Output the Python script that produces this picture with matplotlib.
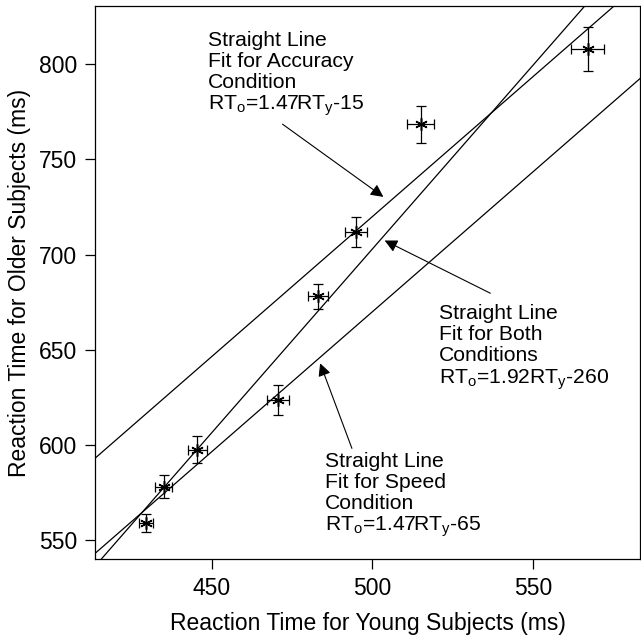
import matplotlib
matplotlib.use('Agg')
import matplotlib.pyplot as plt
import numpy as np

plt.rcParams['font.family'] = ['Liberation Sans', 'DejaVu Sans']
plt.rcParams['mathtext.fontset'] = 'custom'
plt.rcParams['mathtext.rm'] = 'Liberation Sans'
plt.rcParams['mathtext.default'] = 'rm'

# reaction times (ms)
rt_young = [429.5, 435, 445.5, 470.5, 483, 495, 515, 567]
rt_old = [559, 578, 597.5, 623.5, 678, 712, 768.5, 808]
err_young = [2.3, 2.7, 3.0, 3.4, 3.0, 3.4, 4.2, 5.1]
err_old = [4.7, 6.0, 7.0, 8.0, 6.8, 8.0, 9.8, 11.4]

# fitted lines as drawn: slope, intercept
fit_accuracy = (1.47, -15)
fit_speed = (1.47, -65)
fit_both = (1.93, -262)

xlim = (413.7, 583.3)
ylim = (539.9, 830.6)

fig = plt.figure(figsize=(6.41, 6.38), dpi=100)
ax = fig.add_axes([0.1487, 0.1233, 0.8497, 0.8673])

xs = np.array(xlim)
for m, b in [fit_accuracy, fit_speed, fit_both]:
    ax.plot(xs, m * xs + b, color='black', lw=0.9)

ax.errorbar(rt_young, rt_old, xerr=err_young, yerr=err_old, fmt='none',
            ecolor='black', elinewidth=0.9, capsize=3.5, capthick=0.9)
ax.plot(rt_young, rt_old, ls='none', marker=(6, 2, 0), ms=9,
        mec='black', mew=1.1)

ax.set_xlim(xlim)
ax.set_ylim(ylim)
ax.set_xticks([450, 500, 550])
ax.set_yticks([550, 600, 650, 700, 750, 800])
ax.tick_params(direction='out', length=7, width=0.9, labelsize=16.5, pad=6)
for s in ax.spines.values():
    s.set_linewidth(0.9)
ax.set_xlabel('Reaction Time for Young Subjects (ms)', fontsize=16.5, labelpad=8)
ax.set_ylabel('Reaction Time for Older Subjects (ms)', fontsize=16.5, labelpad=6)

arrow = dict(arrowstyle='-|>', color='black', lw=0.8, mutation_scale=19,
             shrinkA=0, shrinkB=0)
fs = 15.2
ax.annotate('', xy=(503.4, 730.3), xytext=(472.0, 768.5), arrowprops=arrow)
ax.text(448.8, 817.3, 'Straight Line\nFit for Accuracy\nCondition\nRT$_\\mathrm{o}$=1.47RT$_\\mathrm{y}$-15',
        fontsize=fs, va='top', ha='left', linespacing=1.12)

ax.annotate('', xy=(503.8, 707.4), xytext=(536.7, 679.7), arrowprops=arrow)
ax.text(520.6, 673.8, 'Straight Line\nFit for Both\nConditions\nRT$_\\mathrm{o}$=1.92RT$_\\mathrm{y}$-260',
        fontsize=fs, va='top', ha='left', linespacing=1.12)

ax.annotate('', xy=(483.7, 642.9), xytext=(493.6, 598.2), arrowprops=arrow)
ax.text(485.3, 596.1, 'Straight Line\nFit for Speed\nCondition\nRT$_\\mathrm{o}$=1.47RT$_\\mathrm{y}$-65',
        fontsize=fs, va='top', ha='left', linespacing=1.12)

fig.savefig('out.png', dpi=100)
